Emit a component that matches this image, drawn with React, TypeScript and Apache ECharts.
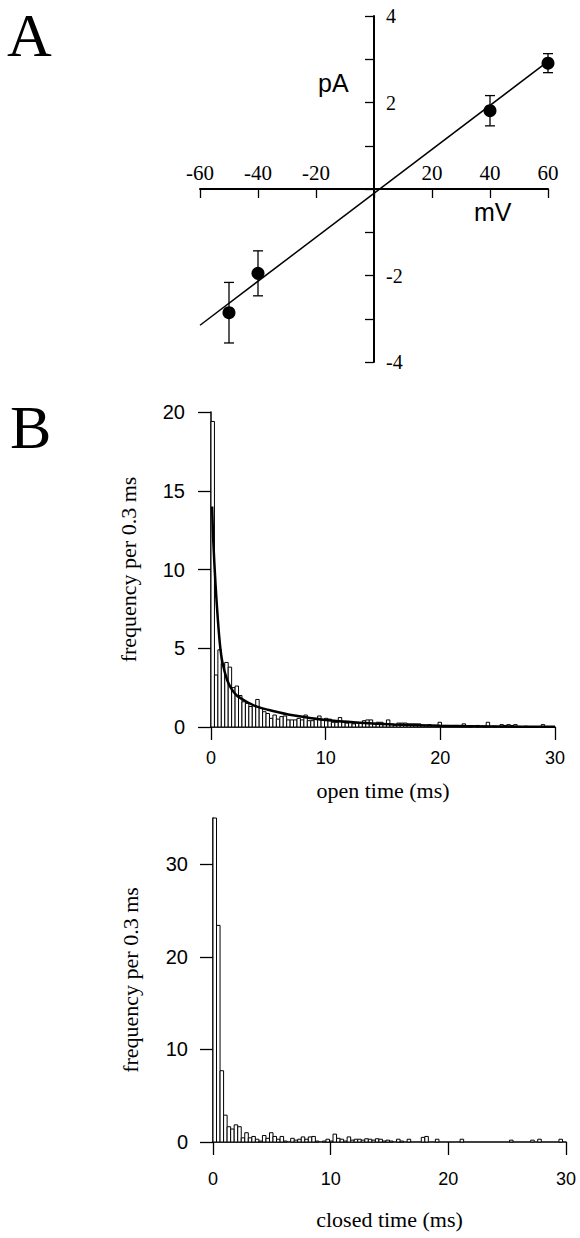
import React, { useEffect, useRef } from "react";
import * as echarts from "echarts";

// ---------- Panel A: I–V relation ----------
const ivVoltage = [-50, -40, 40, 60];
const ivCurrent = [-2.86, -1.95, 1.81, 2.91];
const ivError = [0.7, 0.52, 0.35, 0.22];
const ivFitVoltage = [-60, 60];
const ivFitCurrent = [-3.15, 2.95];
const ivXTicks = [-60, -40, -20, 20, 40, 60];
const ivYTicks = [-4, -2, 2, 4];

// ---------- Panel B: dwell-time histograms (0.3 ms bins) ----------
const BIN_MS = 0.3;
const openHist = [
  19.4, 3.3, 4.9, 4.0, 4.1, 3.8, 2.5, 2.6, 2.0, 1.6,
  1.5, 1.3, 1.35, 1.75, 1.2, 0.97, 0.86, 0.55, 0.76, 0.5,
  0.66, 0.7, 0.45, 0.45, 0.45, 0.55, 0.45, 0.76, 0.4, 0.4,
  0.5, 0.7, 0.45, 0.55, 0.5, 0.3, 0.3, 0.6, 0.3, 0.25,
  0.35, 0.2, 0.3, 0.25, 0.4, 0.45, 0.45, 0.2, 0.3, 0.3,
  0.2, 0.45, 0.15, 0.1, 0.25, 0.25, 0.25, 0.2, 0.2, 0.2,
  0.2, 0.1, 0.1, 0.15, 0.1, 0.1, 0.3, 0.1, 0.1, 0.05,
  0.05, 0.1, 0.05, 0.2, 0.05, 0.05, 0, 0.1, 0, 0.05,
  0.3, 0, 0.05, 0, 0.15, 0.1, 0.15, 0.1, 0.15, 0,
  0, 0.05, 0, 0, 0, 0, 0.15, 0, 0, 0,
];
const openFitTime = [0.1, 0.2, 0.4, 0.6, 0.8, 1.0, 1.4, 1.8, 2.25, 3, 4, 5.5, 7, 10, 13, 16, 20, 25, 30];
const openFitFreq = [14, 11.8, 9, 6.8, 5.1, 4.1, 3.0, 2.4, 2.0, 1.65, 1.29, 1.0, 0.76, 0.44, 0.27, 0.16, 0.08, 0.03, 0.01];

const closedHist = [
  35, 23.4, 7.7, 2.9, 1.65, 1.4, 1.85, 1.65, 0.45, 1.0,
  0.45, 0.6, 0.3, 0.1, 0.7, 0.4, 1.0, 0.6, 0.3, 0.6,
  0.1, 0, 0.4, 0.2, 0.3, 0.55, 0.3, 0.55, 0.6, 0.1,
  0, 0.1, 0.3, 0.1, 0.85, 0.4, 0.3, 0.1, 0.55, 0.2,
  0.3, 0.3, 0.2, 0.35, 0.3, 0.2, 0.35, 0.3, 0.1, 0.2,
  0.1, 0, 0.3, 0.1, 0, 0.3, 0, 0, 0, 0.5,
  0.6, 0, 0, 0.3, 0, 0, 0, 0, 0, 0,
  0.3, 0, 0, 0, 0, 0, 0, 0, 0, 0,
  0, 0, 0, 0, 0.2, 0, 0, 0, 0, 0,
  0.2, 0, 0.3, 0, 0, 0, 0, 0, 0.3, 0,
];
const closedYTicks = [0, 10, 20, 30];

const SERIF = '"Liberation Serif", "Times New Roman", serif';
const SANS = '"Liberation Sans", Arial, sans-serif';

// panel A grid geometry (px)
const A_LEFT = 200, A_TOP = 16, A_W = 348, A_H = 346;

export default function App() {
  const ref = useRef<HTMLDivElement>(null);

  useEffect(() => {
    if (!ref.current) return;
    const chart = echarts.init(ref.current, null, { renderer: "svg" });

    const histItem = (params: any, api: any) => {
      const x0 = api.value(0);
      const x1 = api.value(1);
      const v = api.value(2);
      if (!(v > 0)) return null;
      const pTop = api.coord([x0, v]);
      const pBot = api.coord([x1, 0]);
      return {
        type: "rect",
        shape: { x: pTop[0], y: pTop[1], width: pBot[0] - pTop[0], height: pBot[1] - pTop[1] },
        style: { fill: "#fff", stroke: "#000", lineWidth: 1 },
      };
    };

    const errItem = (params: any, api: any) => {
      const x = api.value(0);
      const lo = api.coord([x, api.value(1)]);
      const hi = api.coord([x, api.value(2)]);
      const w = 5;
      const st = { stroke: "#000", lineWidth: 1.3 };
      return {
        type: "group",
        children: [
          { type: "line", shape: { x1: lo[0], y1: lo[1], x2: hi[0], y2: hi[1] }, style: st },
          { type: "line", shape: { x1: lo[0] - w, y1: lo[1], x2: lo[0] + w, y2: lo[1] }, style: st },
          { type: "line", shape: { x1: hi[0] - w, y1: hi[1], x2: hi[0] + w, y2: hi[1] }, style: st },
        ],
      };
    };

    const tick = (len: number, values?: number[]) => ({
      show: true,
      length: len,
      lineStyle: { color: "#000", width: 1.3 },
      ...(values ? { customValues: values } : {}),
    });
    const plainLine = { show: true, onZero: false, lineStyle: { color: "#000", width: 1.5 } };

    // place panel A axes through the origin (0 mV, 0 pA)
    const xMin = -60, xMax = 60, yMin = -4, yMax = 4;
    const zeroY = A_TOP + A_H * (yMax / (yMax - yMin));
    const zeroX = A_LEFT + A_W * ((0 - xMin) / (xMax - xMin));
    const xAxisOffset = zeroY - (A_TOP + A_H);
    const yAxisOffset = A_LEFT - zeroX;

    chart.setOption({
      animation: false,
      backgroundColor: "#fff",
      grid: [
        { left: A_LEFT, top: A_TOP, width: A_W, height: A_H },
        { left: 211, top: 412, width: 344, height: 315 },
        { left: 213, top: 818, width: 353, height: 324 },
      ],
      xAxis: [
        {
          gridIndex: 0, type: "value", min: xMin, max: xMax, interval: 20,
          position: "bottom", offset: xAxisOffset,
          axisLine: { show: true, onZero: false, lineStyle: { color: "#000", width: 2 } },
          axisTick: tick(9),
          axisLabel: {
            inside: true, margin: 6, color: "#000", fontFamily: SERIF, fontSize: 21,
            formatter: (v: number) => (ivXTicks.indexOf(v) >= 0 ? String(v) : ""),
          },
          splitLine: { show: false },
        },
        {
          gridIndex: 1, type: "value", min: 0, max: 30, interval: 10,
          axisLine: plainLine,
          axisTick: tick(13),
          axisLabel: { margin: 22, color: "#000", fontFamily: SANS, fontSize: 18 },
          splitLine: { show: false },
          name: "open time (ms)", nameLocation: "middle", nameGap: 52,
          nameTextStyle: { color: "#000", fontFamily: SERIF, fontSize: 22 },
        },
        {
          gridIndex: 2, type: "value", min: 0, max: 30, interval: 10,
          axisLine: plainLine,
          axisTick: tick(13),
          axisLabel: { margin: 28, color: "#000", fontFamily: SANS, fontSize: 18 },
          splitLine: { show: false },
          name: "closed time (ms)", nameLocation: "middle", nameGap: 66,
          nameTextStyle: { color: "#000", fontFamily: SERIF, fontSize: 22 },
        },
      ],
      yAxis: [
        {
          gridIndex: 0, type: "value", min: yMin, max: yMax, interval: 1,
          position: "left", offset: yAxisOffset,
          axisLine: { show: true, onZero: false, lineStyle: { color: "#000", width: 2 } },
          axisTick: tick(9),
          axisLabel: {
            inside: true, margin: 12, color: "#000", fontFamily: SERIF, fontSize: 20,
            formatter: (v: number) => (ivYTicks.indexOf(v) >= 0 ? String(v) : ""),
          },
          splitLine: { show: false },
        },
        {
          gridIndex: 1, type: "value", min: 0, max: 20, interval: 5,
          axisLine: plainLine,
          axisTick: tick(13),
          axisLabel: { margin: 26, color: "#000", fontFamily: SANS, fontSize: 20 },
          splitLine: { show: false },
          name: "frequency per 0.3 ms", nameLocation: "middle", nameGap: 72,
          nameTextStyle: { color: "#000", fontFamily: SERIF, fontSize: 22 },
        },
        {
          gridIndex: 2, type: "value", min: 0, max: 35,
          axisLine: plainLine,
          axisTick: tick(13, closedYTicks),
          axisLabel: { margin: 25, color: "#000", fontFamily: SANS, fontSize: 20, customValues: closedYTicks },
          splitLine: { show: false },
          name: "frequency per 0.3 ms", nameLocation: "middle", nameGap: 72,
          nameTextStyle: { color: "#000", fontFamily: SERIF, fontSize: 22 },
        },
      ],
      series: [
        {
          type: "line", xAxisIndex: 0, yAxisIndex: 0,
          data: ivFitVoltage.map((v, i) => [v, ivFitCurrent[i]]),
          showSymbol: false, lineStyle: { color: "#000", width: 1.5 }, z: 2,
        },
        {
          type: "custom", xAxisIndex: 0, yAxisIndex: 0,
          data: ivVoltage.map((v, i) => [v, ivCurrent[i] - ivError[i], ivCurrent[i] + ivError[i]]),
          encode: { x: 0, y: [1, 2] },
          renderItem: errItem, z: 3,
        },
        {
          type: "scatter", xAxisIndex: 0, yAxisIndex: 0,
          data: ivVoltage.map((v, i) => [v, ivCurrent[i]]),
          symbol: "circle", symbolSize: 13, itemStyle: { color: "#000", opacity: 1 }, z: 4,
        },
        {
          type: "custom", xAxisIndex: 1, yAxisIndex: 1,
          data: openHist.map((v, i) => [i * BIN_MS, (i + 1) * BIN_MS, v]),
          encode: { x: [0, 1], y: 2 },
          renderItem: histItem, z: 2,
        },
        {
          type: "line", xAxisIndex: 1, yAxisIndex: 1,
          data: openFitTime.map((t, i) => [t, openFitFreq[i]]),
          smooth: 0.3, showSymbol: false,
          lineStyle: { color: "#000", width: 2.5 }, z: 3,
        },
        {
          type: "custom", xAxisIndex: 2, yAxisIndex: 2,
          data: closedHist.map((v, i) => [i * BIN_MS, (i + 1) * BIN_MS, v]),
          encode: { x: [0, 1], y: 2 },
          renderItem: histItem, z: 2,
        },
      ],
      graphic: [
        { type: "text", left: 7, top: 4, style: { text: "A", font: `62px ${SERIF}`, fill: "#000" } },
        { type: "text", left: 10, top: 396, style: { text: "B", font: `62px ${SERIF}`, fill: "#000" } },
        { type: "text", left: 318, top: 70, style: { text: "pA", font: `25px ${SANS}`, fill: "#000" } },
        { type: "text", left: 474, top: 199, style: { text: "mV", font: `25px ${SANS}`, fill: "#000" } },
      ],
    });

    return () => chart.dispose();
  }, []);

  return (
    <div
      ref={ref}
      style={{ position: "absolute", left: 0, top: 0, width: 580, height: 1238, background: "#fff" }}
    />
  );
}
